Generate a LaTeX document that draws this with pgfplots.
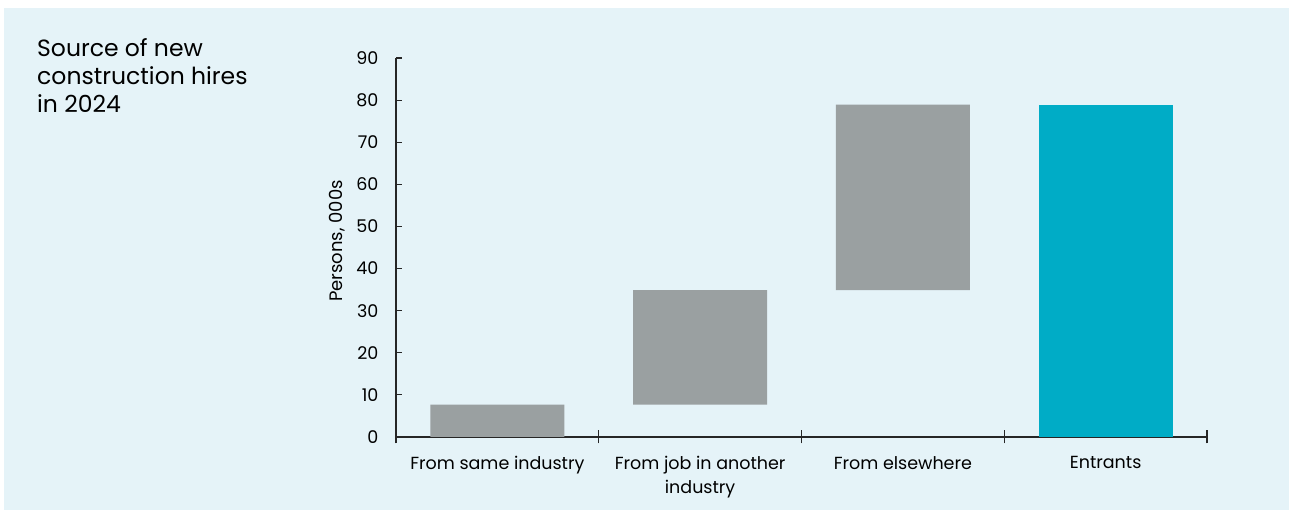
\documentclass[border=0pt]{standalone}
\usepackage{fontspec}
\setmainfont{Poppins}
\usepackage{pgfplots}
\pgfplotsset{compat=1.18}

\definecolor{panelbg}{HTML}{E5F3F8}
\definecolor{flowgray}{HTML}{9AA0A1}
\definecolor{entrteal}{HTML}{00ACC6}

\begin{document}
\begin{tikzpicture}[x=1pt,y=1pt]
  % canvas and light panel
  \useasboundingbox (0,0) rectangle (1289,510);
  \fill[white] (0,0) rectangle (1289,510);
  \fill[panelbg] (4,0) rectangle (1289,502);

  % title block, one node per line
  \begin{scope}[every node/.style={anchor=base west, inner sep=0pt,
      font=\fontsize{23.5}{28}\selectfont}]
    \node at (37,453) {Source of new};
    \node at (37,425) {construction hires};
    \node at (37,397) {in 2024};
  \end{scope}

  % y-axis title
  \node[rotate=90, font=\fontsize{18}{20}\selectfont, inner sep=0pt]
    at (337,269) {Persons, 000s};

  \begin{axis}[
    at={(396pt,73pt)}, anchor=south west,
    scale only axis, width=811pt, height=379pt,
    xmin=-0.5, xmax=3.5, ymin=0, ymax=90,
    axis lines=left, axis line style={-, line width=1.3pt, black!85},
    /pgf/number format/assume math mode=true,
    ytick={0,10,...,90},
    ytick style={line width=1.2pt, black!85},
    y tick label style={font=\fontsize{17.5}{20}\selectfont, xshift=-14pt},
    ytick align=inside, major tick length=6pt,
    xtick={0,1,2,3},
    xticklabels={From same industry, From job in another\\industry, From elsewhere, Entrants},
    xtick style={draw=none},
    x tick label style={font=\fontsize{17.5}{24}\selectfont, align=center, yshift=-13pt},
    extra x ticks={-0.5,0.5,1.5,2.5,3.5},
    extra x tick labels={},
    extra x tick style={major tick length=13pt, tick align=center,
      xtick style={draw=black!85, line width=1.2pt}},
    ybar stacked, bar width=134pt,
    clip=false,
  ]
    % invisible base of each floating bar
    \addplot[draw=none, fill=none] coordinates {(0,0) (1,7.7) (2,34.9) (3,0)};
    % flows into construction
    \addplot[draw=none, fill=flowgray] coordinates {(0,7.7) (1,27.2) (2,44.0) (3,0)};
    % total entrants
    \addplot[draw=none, fill=entrteal] coordinates {(0,0) (1,0) (2,0) (3,78.9)};
  \end{axis}
\end{tikzpicture}
\end{document}
